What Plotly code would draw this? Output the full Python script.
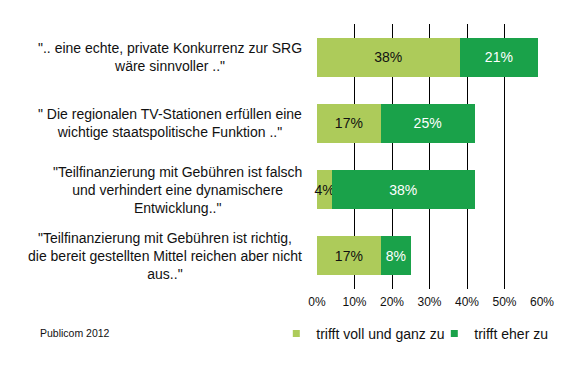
import plotly.graph_objects as go

categories = [
    "\".. eine echte, private Konkurrenz zur SRG<br>wäre sinnvoller ..\"",
    "\" Die regionalen TV-Stationen erfüllen eine<br>wichtige staatspolitische Funktion ..\"",
    "\"Teilfinanzierung mit Gebühren ist falsch<br>und verhindert eine dynamischere<br>Entwicklung..\"",
    "\"Teilfinanzierung mit Gebühren ist richtig,<br>die bereit gestellten Mittel reichen aber nicht<br>aus..\"",
]
voll = [38, 17, 4, 17]
eher = [21, 25, 38, 8]
series_names = ["trifft voll und ganz zu", "trifft eher zu"]
tick_vals = [0, 10, 20, 30, 40, 50, 60]
tick_text = ["0%", "10%", "20%", "30%", "40%", "50%", "60%"]

LIGHT = "#ADCB5A"
DARK = "#1AA24A"
FONT = "Liberation Sans, Arial, sans-serif"

# figure is placed at an 8px body margin inside the 568x378 window
W, H = 560, 370
PL, PR, PT, PB = 308.7, 533.7, 16, 281
PW, PHt = PR - PL, PB - PT

ypos = list(range(len(categories)))

fig = go.Figure()
fig.add_trace(go.Bar(
    y=ypos, x=voll, orientation="h", name=series_names[0], showlegend=False,
    marker=dict(color=LIGHT, line=dict(width=0)),
    text=[f"{v}%" for v in voll], textposition="inside", insidetextanchor="middle",
    textangle=0, cliponaxis=False,
    textfont=dict(color="#111111", size=14, family=FONT),
))
fig.add_trace(go.Bar(
    y=ypos, x=eher, orientation="h", name=series_names[1], showlegend=False,
    marker=dict(color=DARK, line=dict(width=0)),
    text=[f"{v}%" for v in eher], textposition="inside", insidetextanchor="middle",
    textangle=0,
    textfont=dict(color="white", size=14, family=FONT),
))
# legend entries with small square swatches
for name, col in zip(series_names, [LIGHT, DARK]):
    fig.add_trace(go.Scatter(
        x=[None], y=[None], mode="markers", name=name,
        marker=dict(symbol="square", size=7, color=col),
    ))

for i, c in enumerate(categories):
    fig.add_annotation(
        x=-12.7 / PW, xref="paper", y=i, yref="y", text=c, showarrow=False,
        xanchor="right", yanchor="middle", align="center",
        font=dict(size=14, family=FONT, color="#111111"),
    )

fig.add_annotation(
    x=(30 - PL) / PW, xref="paper", y=(PB - 325) / PHt, yref="paper",
    text="Publicom 2012", showarrow=False, xanchor="left", yanchor="middle",
    font=dict(size=10.5, family=FONT, color="#111111"),
)

fig.update_layout(
    width=W, height=H,
    margin=dict(l=PL, r=W - PR, t=PT, b=H - PB, autoexpand=False),
    barmode="stack", bargap=0.41,
    plot_bgcolor="white", paper_bgcolor="white",
    font=dict(family=FONT, size=12, color="#111111"),
    uniformtext=dict(minsize=14, mode="show"),
    showlegend=True,
    legend=dict(
        orientation="h", x=(268 - PL) / PW, xanchor="left",
        y=(PB - 326) / PHt, yanchor="middle",
        font=dict(size=14, family=FONT, color="#111111"), traceorder="normal",
        bgcolor="rgba(0,0,0,0)", entrywidth=113, entrywidthmode="pixels",
    ),
    xaxis=dict(
        range=[0, 60], tickvals=tick_vals, ticktext=tick_text,
        showgrid=True, gridcolor="black", gridwidth=1, zeroline=False,
        showline=False, ticks="", tickfont=dict(size=12, family=FONT),
        ticklabelstandoff=4, fixedrange=True,
    ),
    yaxis=dict(
        autorange="reversed", showticklabels=False, showgrid=False, zeroline=False,
        showline=False,
    ),
)

fig.write_html("out.html")
